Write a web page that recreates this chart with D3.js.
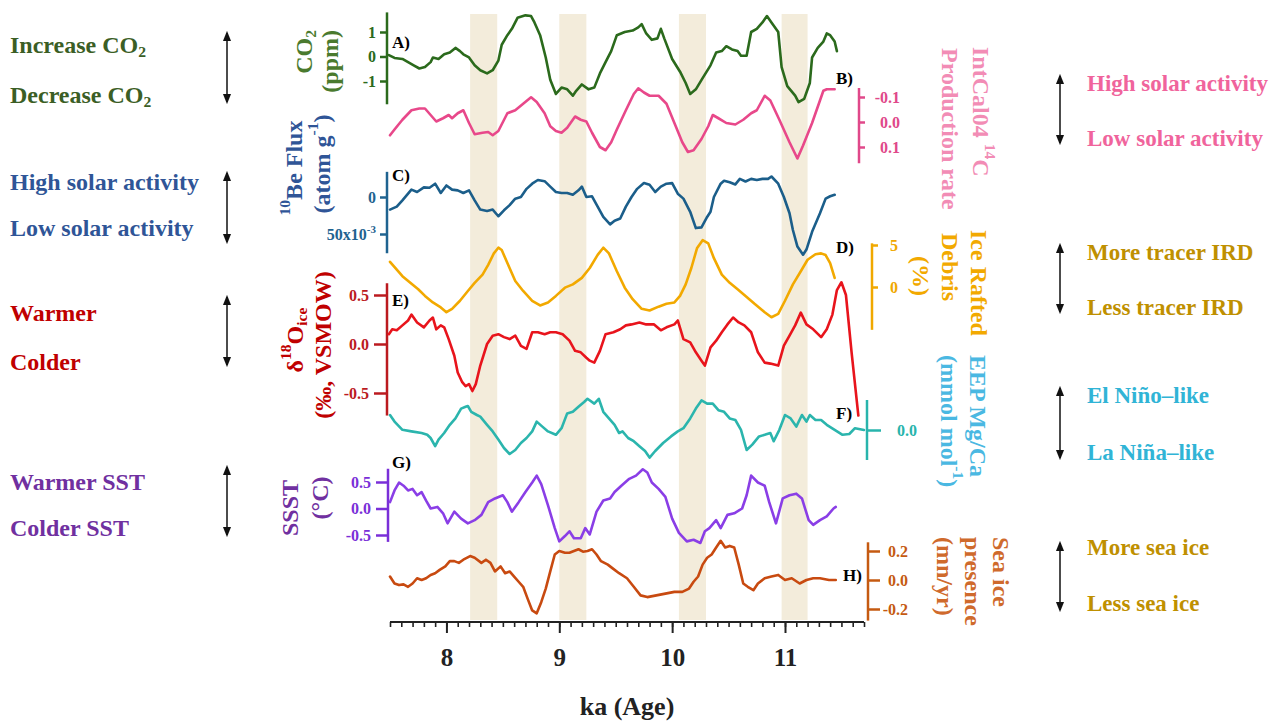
<!DOCTYPE html>
<html>
<head>
<meta charset="utf-8">
<script src="https://cdn.jsdelivr.net/npm/d3@7"></script>
<style>
  body { margin: 0; background: #fff; }
  svg text { font-family: "Times New Roman", "Liberation Serif", serif; font-weight: bold; }
</style>
</head>
<body>
<svg id="chart" width="1273" height="721"></svg>
<script>
// ---- data: [age (ka), value] ----
const co2 = [[7.49,0.06],[7.54,-0.06],[7.61,-0.1],[7.66,-0.23],[7.71,-0.36],[7.76,-0.49],[7.81,-0.43],[7.86,-0.23],[7.88,-0.04],[7.93,-0.1],[7.98,0.09],[8.03,0.16],[8.08,0.35],[8.12,0.22],[8.15,0.09],[8.2,-0.04],[8.25,-0.36],[8.3,-0.56],[8.36,-0.69],[8.41,-0.56],[8.46,-0.17],[8.49,0.48],[8.54,0.87],[8.58,1.13],[8.63,1.58],[8.7,1.68],[8.75,1.65],[8.78,1.39],[8.83,0.87],[8.88,-0.04],[8.92,-0.95],[8.97,-1.53],[9.02,-1.27],[9.07,-1.34],[9.12,-1.6],[9.15,-1.4],[9.2,-1.14],[9.26,-1.34],[9.31,-1.27],[9.36,-0.69],[9.41,-0.23],[9.46,0.22],[9.51,0.87],[9.58,1.0],[9.65,1.06],[9.7,1.19],[9.73,1.32],[9.77,0.94],[9.82,0.68],[9.87,0.74],[9.9,1.13],[9.93,0.74],[10.0,-0.1],[10.07,-0.62],[10.12,-1.08],[10.16,-1.53],[10.21,-1.34],[10.27,-0.88],[10.34,-0.36],[10.39,0.16],[10.44,0.22],[10.48,0.42],[10.53,0.29],[10.58,0.22],[10.61,0.03],[10.66,0.03],[10.7,1.0],[10.75,1.13],[10.8,1.39],[10.84,1.65],[10.88,1.39],[10.94,1.0],[10.97,-0.43],[11.02,-1.21],[11.09,-1.6],[11.12,-1.86],[11.17,-1.73],[11.22,-1.08],[11.24,-0.04],[11.29,0.35],[11.34,0.61],[11.37,0.94],[11.4,0.87],[11.44,0.61],[11.46,0.22]];

const c14Prod = [[7.5,0.053],[7.54,0.03],[7.61,-0.009],[7.69,-0.047],[7.76,-0.054],[7.81,-0.054],[7.86,-0.028],[7.91,-0.002],[7.97,-0.015],[8.02,-0.028],[8.05,-0.015],[8.1,-0.035],[8.15,-0.047],[8.2,0.004],[8.25,0.049],[8.32,0.043],[8.37,0.04],[8.41,0.053],[8.46,0.036],[8.54,-0.035],[8.61,-0.047],[8.68,-0.073],[8.75,-0.099],[8.8,-0.08],[8.87,-0.035],[8.92,0.017],[8.97,0.036],[9.02,0.043],[9.07,0.023],[9.14,-0.022],[9.19,-0.009],[9.24,-0.002],[9.29,0.043],[9.36,0.1],[9.41,0.113],[9.46,0.081],[9.51,0.03],[9.59,-0.047],[9.66,-0.112],[9.7,-0.135],[9.75,-0.118],[9.8,-0.105],[9.88,-0.105],[9.95,-0.073],[10.02,0.004],[10.09,0.081],[10.14,0.12],[10.19,0.113],[10.26,0.068],[10.32,0.017],[10.36,-0.028],[10.41,-0.015],[10.48,0.004],[10.56,0.01],[10.63,-0.009],[10.7,-0.035],[10.75,-0.047],[10.82,-0.105],[10.87,-0.086],[10.95,-0.009],[11.04,0.081],[11.11,0.146],[11.16,0.094],[11.24,0.004],[11.34,-0.125],[11.37,-0.131],[11.44,-0.131]];

// 10Be flux in units of 10^-3
const be10 = [[7.5,17],[7.56,13],[7.61,4.5],[7.66,-4.5],[7.69,-10],[7.74,-6.7],[7.8,-13],[7.85,-12.5],[7.9,-18],[7.95,-5.4],[8.0,-15.6],[8.05,-10],[8.1,-9],[8.15,-5.4],[8.2,-9],[8.25,4.5],[8.3,17],[8.36,18.8],[8.41,17],[8.46,26],[8.51,18],[8.56,11],[8.61,2.2],[8.66,0],[8.71,-11],[8.76,-18],[8.81,-23],[8.87,-21.4],[8.92,-14],[8.97,-6.7],[9.02,-5.4],[9.07,-5.4],[9.12,-3],[9.17,-9],[9.2,-14],[9.24,0],[9.29,-1],[9.34,13],[9.39,27],[9.45,37],[9.49,32],[9.54,29],[9.59,13],[9.64,0],[9.69,-11],[9.75,-19],[9.8,-16.5],[9.85,-6.7],[9.9,-14],[9.95,-18],[10.0,-18.8],[10.05,-4.5],[10.1,2.2],[10.16,20],[10.21,42],[10.26,41],[10.31,27],[10.34,20],[10.37,0],[10.43,-18],[10.46,-22],[10.51,-20],[10.56,-17],[10.6,-24.5],[10.65,-21],[10.7,-24.5],[10.75,-23],[10.8,-24.5],[10.85,-24.5],[10.88,-27.7],[10.94,-18],[10.99,0],[11.04,22],[11.07,44.6],[11.11,67],[11.16,78],[11.19,71],[11.24,47],[11.31,22],[11.36,2.2],[11.4,-1],[11.44,-3]];

const ird = [[7.5,3.0],[7.56,2.06],[7.61,1.29],[7.68,0.5],[7.75,-0.27],[7.81,-1.06],[7.88,-1.84],[7.95,-2.43],[8.0,-3.0],[8.05,-2.6],[8.12,-1.64],[8.19,-0.47],[8.25,0.5],[8.32,1.48],[8.37,2.64],[8.42,4.0],[8.46,4.68],[8.49,4.4],[8.54,2.85],[8.61,0.71],[8.68,-0.47],[8.76,-1.64],[8.83,-2.2],[8.9,-1.84],[8.97,-1.06],[9.05,-0.08],[9.12,0.31],[9.2,1.08],[9.27,2.26],[9.34,3.82],[9.39,4.68],[9.44,4.0],[9.51,1.87],[9.58,-0.08],[9.65,-1.45],[9.73,-2.6],[9.8,-2.8],[9.88,-2.34],[9.95,-2.0],[10.02,-1.84],[10.07,-1.06],[10.12,0.31],[10.17,2.26],[10.22,4.6],[10.27,5.57],[10.32,5.19],[10.37,3.43],[10.44,1.48],[10.51,0.5],[10.58,-0.27],[10.65,-1.06],[10.73,-2.0],[10.82,-3.0],[10.88,-3.6],[10.94,-3.2],[11.0,-1.64],[11.07,0.31],[11.14,1.87],[11.2,3.24],[11.27,3.9],[11.32,4.0],[11.36,3.8],[11.4,2.85],[11.44,1.08]];

const d18Oice = [[7.49,0.1],[7.52,0.15],[7.56,0.14],[7.61,0.19],[7.66,0.24],[7.69,0.3],[7.74,0.22],[7.8,0.17],[7.85,0.24],[7.88,0.27],[7.91,0.15],[7.95,0.19],[7.98,0.17],[8.02,0.05],[8.07,-0.12],[8.1,-0.29],[8.14,-0.39],[8.17,-0.43],[8.2,-0.41],[8.23,-0.48],[8.26,-0.41],[8.3,-0.22],[8.36,0.0],[8.41,0.085],[8.46,0.1],[8.51,0.07],[8.56,0.05],[8.61,0.085],[8.66,-0.02],[8.71,-0.05],[8.76,0.12],[8.81,0.12],[8.87,0.1],[8.92,0.12],[8.97,0.12],[9.03,0.1],[9.09,0.034],[9.14,-0.07],[9.19,-0.085],[9.24,-0.14],[9.27,-0.17],[9.31,-0.19],[9.36,-0.07],[9.41,0.1],[9.48,0.12],[9.54,0.15],[9.59,0.19],[9.64,0.2],[9.71,0.22],[9.77,0.2],[9.84,0.2],[9.9,0.14],[9.95,0.17],[10.02,0.2],[10.05,0.24],[10.1,0.05],[10.16,0.017],[10.21,-0.085],[10.26,-0.17],[10.29,-0.22],[10.34,-0.034],[10.39,0.034],[10.44,0.12],[10.49,0.2],[10.54,0.27],[10.59,0.22],[10.64,0.19],[10.7,0.12],[10.76,-0.085],[10.82,-0.19],[10.87,-0.2],[10.94,-0.22],[10.99,-0.017],[11.04,0.085],[11.09,0.19],[11.14,0.32],[11.19,0.2],[11.25,0.15],[11.32,0.07],[11.37,0.15],[11.42,0.3],[11.46,0.55],[11.5,0.63],[11.54,0.5],[11.59,-0.085],[11.65,-0.73]];

const mgca = [[7.5,0.075],[7.54,0.042],[7.61,0.001],[7.69,-0.007],[7.78,-0.015],[7.83,-0.024],[7.86,-0.04],[7.9,-0.081],[7.93,-0.048],[7.98,-0.015],[8.03,0.026],[8.08,0.058],[8.13,0.107],[8.17,0.116],[8.19,0.12],[8.22,0.091],[8.27,0.075],[8.3,0.067],[8.36,0.026],[8.41,-0.007],[8.46,-0.048],[8.51,-0.09],[8.56,-0.12],[8.61,-0.1],[8.66,-0.065],[8.71,-0.04],[8.76,-0.007],[8.8,0.042],[8.85,0.017],[8.9,-0.007],[8.97,-0.024],[9.02,0.009],[9.07,0.083],[9.12,0.091],[9.17,0.116],[9.22,0.14],[9.25,0.156],[9.31,0.132],[9.35,0.156],[9.39,0.091],[9.44,0.058],[9.49,0.026],[9.53,-0.015],[9.56,-0.007],[9.61,-0.04],[9.66,-0.056],[9.71,-0.081],[9.76,-0.105],[9.8,-0.138],[9.85,-0.105],[9.92,-0.065],[9.99,-0.032],[10.05,-0.007],[10.1,0.009],[10.16,0.058],[10.21,0.107],[10.26,0.148],[10.31,0.132],[10.36,0.132],[10.41,0.099],[10.46,0.091],[10.51,0.058],[10.56,0.05],[10.61,0.001],[10.66,-0.1],[10.71,-0.073],[10.77,-0.032],[10.82,-0.024],[10.87,-0.015],[10.9,-0.056],[10.95,0.001],[11.0,0.075],[11.05,0.058],[11.1,0.017],[11.15,0.075],[11.19,0.042],[11.22,0.075],[11.27,0.05],[11.32,0.05],[11.37,0.026],[11.44,0.001],[11.51,-0.024],[11.57,-0.02],[11.62,0.009],[11.7,0.0]];

const ssst = [[7.5,0.12],[7.54,0.34],[7.58,0.49],[7.62,0.43],[7.66,0.34],[7.7,0.37],[7.74,0.25],[7.78,0.31],[7.82,0.15],[7.86,0.0],[7.92,0.03],[7.97,-0.09],[8.01,-0.28],[8.07,-0.06],[8.13,-0.19],[8.19,-0.28],[8.25,-0.22],[8.31,-0.12],[8.37,0.12],[8.43,0.19],[8.5,0.25],[8.54,0.12],[8.58,-0.06],[8.64,0.12],[8.7,0.31],[8.76,0.49],[8.8,0.62],[8.84,0.46],[8.9,0.06],[8.96,-0.37],[9.0,-0.62],[9.05,-0.52],[9.09,-0.43],[9.13,-0.56],[9.19,-0.56],[9.23,-0.37],[9.27,-0.49],[9.33,-0.06],[9.39,0.15],[9.45,0.19],[9.49,0.31],[9.55,0.43],[9.62,0.56],[9.68,0.62],[9.74,0.74],[9.78,0.68],[9.82,0.49],[9.88,0.37],[9.94,0.22],[10.0,-0.19],[10.06,-0.46],[10.13,-0.62],[10.19,-0.59],[10.25,-0.65],[10.29,-0.43],[10.33,-0.37],[10.39,-0.22],[10.43,-0.37],[10.49,-0.12],[10.55,-0.09],[10.62,0.0],[10.66,0.25],[10.7,0.62],[10.76,0.49],[10.82,0.43],[10.86,0.12],[10.92,-0.28],[10.98,0.19],[11.04,0.25],[11.1,0.28],[11.15,0.19],[11.21,-0.22],[11.25,-0.31],[11.31,-0.22],[11.37,-0.15],[11.43,0.0],[11.45,0.03]];

const seaIce = [[7.5,0.024],[7.54,-0.024],[7.58,-0.035],[7.62,-0.03],[7.66,-0.047],[7.7,-0.024],[7.74,0.012],[7.78,0.0],[7.82,0.012],[7.86,0.035],[7.9,0.047],[7.94,0.07],[7.99,0.094],[8.03,0.13],[8.07,0.13],[8.11,0.118],[8.15,0.14],[8.21,0.165],[8.25,0.153],[8.31,0.118],[8.35,0.14],[8.39,0.118],[8.43,0.059],[8.48,0.094],[8.52,0.047],[8.56,0.059],[8.6,0.024],[8.64,-0.012],[8.68,-0.047],[8.72,-0.13],[8.76,-0.21],[8.8,-0.23],[8.84,-0.153],[8.88,-0.059],[8.92,0.059],[8.96,0.176],[9.0,0.2],[9.05,0.188],[9.09,0.188],[9.13,0.2],[9.17,0.212],[9.21,0.195],[9.25,0.2],[9.29,0.212],[9.33,0.176],[9.37,0.13],[9.43,0.106],[9.47,0.082],[9.53,0.047],[9.6,0.012],[9.66,-0.047],[9.72,-0.106],[9.78,-0.118],[9.86,-0.106],[9.94,-0.094],[10.02,-0.082],[10.09,-0.082],[10.15,-0.059],[10.19,-0.012],[10.23,0.024],[10.27,0.106],[10.31,0.153],[10.35,0.176],[10.39,0.224],[10.43,0.27],[10.47,0.224],[10.51,0.235],[10.55,0.224],[10.59,0.106],[10.63,-0.024],[10.67,-0.047],[10.72,-0.07],[10.76,-0.024],[10.82,0.012],[10.88,0.024],[10.94,0.035],[11.0,0.0],[11.06,0.012],[11.13,-0.024],[11.19,0.0],[11.25,0.012],[11.31,0.012],[11.39,0.0],[11.45,0.0]];

// shaded intervals (ka)
const bands = [[8.21, 8.45], [9.0, 9.24], [10.06, 10.3], [10.97, 11.2]];

// x axis ticks
const majorTicks = [8, 9, 10, 11];
const minorTicks = d3.range(75, 118).map(d => d / 10);

// interpretation labels
const leftNotes = [
  { top: [["Increase CO"], ["2", "sub"]], bottom: [["Decrease CO"], ["2", "sub"]], color: "#3b5e25", y: [45, 95], arrow: [33, 102] },
  { top: [["High solar activity"]], bottom: [["Low solar activity"]], color: "#2f5597", y: [182, 228], arrow: [173, 242] },
  { top: [["Warmer"]], bottom: [["Colder"]], color: "#c00000", y: [313, 362], arrow: [297, 365] },
  { top: [["Warmer SST"]], bottom: [["Colder SST"]], color: "#7030a0", y: [482, 528], arrow: [467, 535] }
];
const rightNotes = [
  { top: "High solar activity", bottom: "Low solar activity", color: "#f0649c", y: [83, 138], arrow: [76, 143] },
  { top: "More tracer IRD", bottom: "Less tracer IRD", color: "#bf9000", y: [252, 307], arrow: [245, 312] },
  { top: "El Niño–like", bottom: "La Niña–like", color: "#30b4d6", y: [395, 452], arrow: [388, 458] },
  { top: "More sea ice", bottom: "Less sea ice", color: "#bf9000", y: [547, 603], arrow: [543, 610] }
];

const svg = d3.select("#chart");
const FONT = '"Times New Roman", "Liberation Serif", serif';
const oneDec = d => d.toFixed(1);   // plain hyphen minus, like the original

const x = d3.scaleLinear().domain([7.5, 11.7]).range([390, 864]);

// beige bands behind everything
svg.append("g").selectAll("rect").data(bands).join("rect")
  .attr("x", d => x(d[0]))
  .attr("width", d => x(d[1]) - x(d[0]))
  .attr("y", 14)
  .attr("height", 606)
  .attr("fill", "#f3ecdb");

// panel definitions
const panels = [
  { name: "A)", data: co2, color: "#2b6a1c", axisColor: "#2b6a1c", side: "left", axisX: 387,
    domain: [-1, 1], range: [81, 32], span: [-1.95, 1.8], ticks: [-1, 0, 1], fmt: d => String(d), tickLen: 7, pad: 4,
    label: [392, 42] },
  { name: "B)", data: c14Prod, color: "#e8488a", axisColor: "#e0488a", side: "right", axisX: 859,
    domain: [-0.1, 0.1], range: [97, 147], span: [-0.136, 0.165], ticks: [-0.1, 0, 0.1], fmt: oneDec, tickLen: 6, pad: 6,
    anchorEnd: 41, label: [836, 78] },
  { name: "C)", data: be10, color: "#1b5e8a", axisColor: "#1f6390", side: "left", axisX: 387,
    domain: [0, 50], range: [197, 234], span: [-34, 76], ticks: [0, 50], fmt: d => d === 0 ? "0" : "", tickLen: 7, pad: 4,
    label: [392, 175] },
  { name: "D)", data: ird, color: "#f2a900", axisColor: "#f0a800", side: "right", axisX: 872,
    domain: [0, 5], range: [287, 245], span: [-5.1, 5.2], ticks: [0, 5], fmt: d => String(d), tickLen: 6, pad: 12,
    label: [836, 247] },
  { name: "E)", data: d18Oice, color: "#e8141c", axisColor: "#bb1a1f", side: "left", axisX: 387,
    domain: [-0.5, 0.5], range: [393, 295], span: [-0.73, 0.62], ticks: [-0.5, 0, 0.5], fmt: oneDec, tickLen: 13, pad: 5,
    label: [392, 300] },
  { name: "F)", data: mgca, color: "#2bb5ad", axisColor: "#28b4ac", side: "right", axisX: 867,
    domain: [0, 0.1], range: [430, 410], span: [-0.15, 0.15], ticks: [0], fmt: oneDec, tickLen: 14, pad: 16,
    label: [836, 413] },
  { name: "G)", data: ssst, color: "#8a3ee6", axisColor: "#7a2fd8", side: "left", axisX: 388,
    domain: [-0.5, 0.5], range: [535, 482], span: [-0.63, 0.75], ticks: [-0.5, 0, 0.5], fmt: oneDec, tickLen: 12, pad: 5,
    label: [392, 462] },
  { name: "H)", data: seaIce, color: "#c84a10", axisColor: "#c55a11", side: "right", axisX: 868,
    domain: [-0.2, 0.2], range: [609, 551], span: [-0.28, 0.26], ticks: [-0.2, 0, 0.2], fmt: oneDec, tickLen: 12, pad: 4,
    anchorEnd: 40, label: [843, 575] }
];

panels.forEach(p => {
  const y = d3.scaleLinear().domain(p.domain).range(p.range);

  const axis = (p.side === "left" ? d3.axisLeft(y) : d3.axisRight(y))
    .tickValues(p.ticks).tickSize(p.tickLen).tickPadding(p.pad).tickFormat(p.fmt);
  const g = svg.append("g")
    .attr("transform", `translate(${p.axisX},0)`)
    .call(axis)
    .attr("font-family", FONT).attr("font-size", 16);
  g.select(".domain").remove();
  g.append("line")
    .attr("y1", y(p.span[0])).attr("y2", y(p.span[1]))
    .attr("stroke", p.axisColor).attr("stroke-width", 2.5);
  g.selectAll(".tick line").attr("stroke", p.axisColor).attr("stroke-width", 2.5);
  g.selectAll(".tick text").attr("fill", p.axisColor).attr("font-weight", "bold");
  if (p.anchorEnd) g.selectAll(".tick text").attr("text-anchor", "end").attr("x", p.anchorEnd);

  // the 50x10^-3 label with its exponent
  if (p.name === "C)") {
    g.selectAll(".tick text").filter(d => d === 50).each(function () {
      const t = d3.select(this);
      t.append("tspan").text("50x10");
      t.append("tspan").attr("dy", -7).attr("font-size", 11).text("-3");
    });
  }

  svg.append("path")
    .datum(p.data)
    .attr("fill", "none")
    .attr("stroke", p.color)
    .attr("stroke-width", 2.6)
    .attr("stroke-linejoin", "round")
    .attr("stroke-linecap", "round")
    .attr("d", d3.line().x(d => x(d[0])).y(d => y(d[1])));

  svg.append("text")
    .attr("x", p.label[0]).attr("y", p.label[1])
    .attr("dominant-baseline", "central")
    .attr("font-size", 17).attr("fill", "#000")
    .text(p.name);
});

// x axis: minor then major ticks
const xMinor = svg.append("g").attr("transform", "translate(0,622)")
  .call(d3.axisBottom(x).tickValues(minorTicks).tickSize(5).tickFormat(""));
xMinor.select(".domain").attr("stroke", "#222").attr("stroke-width", 2).attr("d", `M${x(7.5)},0H${x(11.7)}`);
xMinor.selectAll(".tick line").attr("stroke", "#222").attr("stroke-width", 1.6);

const xMajor = svg.append("g").attr("transform", "translate(0,622)")
  .call(d3.axisBottom(x).tickValues(majorTicks).tickSize(11).tickPadding(15).tickFormat(d3.format("d")))
  .attr("font-family", FONT).attr("font-size", 25);
xMajor.select(".domain").remove();
xMajor.selectAll(".tick line").attr("stroke", "#222").attr("stroke-width", 2);
xMajor.selectAll(".tick text").attr("fill", "#222").attr("font-weight", "bold");

svg.append("text")
  .attr("x", x(9.6)).attr("y", 706)
  .attr("text-anchor", "middle").attr("dominant-baseline", "central")
  .attr("font-size", 26).attr("fill", "#222")
  .text("ka (Age)");

// rich text helper: parts = [[text, "sup"|"sub"|undefined], ...]
function rich(sel, parts, size) {
  let shift = 0;
  parts.forEach(([txt, kind]) => {
    const target = kind === "sup" ? -0.4 * size : kind === "sub" ? 0.25 * size : 0;
    sel.append("tspan")
      .attr("dy", target - shift)
      .attr("font-size", kind ? size * 0.65 : size)
      .text(txt);
    shift = target;
  });
}

function title(cx, cy, rot, anchor, parts, color, size) {
  const t = svg.append("text")
    .attr("transform", `translate(${cx},${cy}) rotate(${rot})`)
    .attr("text-anchor", anchor)
    .attr("dominant-baseline", "central")
    .attr("fill", color);
  rich(t, parts, size || 24);
}

// left axis titles (read bottom to top)
title(304, 30, -90, "end", [["CO"], ["2", "sub"]], "#4a7a2e");
title(330, 30, -90, "end", [["(ppm)"]], "#4a7a2e");
title(294, 168, -90, "middle", [["10", "sup"], ["Be Flux"]], "#2f5597");
title(322, 164, -90, "middle", [["(atom g"], ["-1", "sup"], [")"]], "#2f5597");
title(295, 340, -90, "middle", [["δ"], ["18", "sup"], ["O"], ["ice", "sub"]], "#c00000");
title(323, 345, -90, "middle", [["(‰, VSMOW)"]], "#c00000");
title(290, 508, -90, "middle", [["SSST"]], "#7030a0");
title(320, 498, -90, "middle", [["(°C)"]], "#7030a0");

// right axis titles (read top to bottom)
title(981, 47, 90, "start", [["IntCal04  "], ["14", "sup"], ["C"]], "#f28cb5");
title(950, 48, 90, "start", [["Production rate"]], "#f28cb5");
title(979, 230, 90, "start", [["Ice Rafted"]], "#f2a900");
title(950, 233, 90, "start", [["Debris"]], "#f2a900");
title(921, 256, 90, "start", [["(%)"]], "#f2a900");
title(978, 355, 90, "start", [["EEP Mg/Ca"]], "#4ab8e2");
title(949, 355, 90, "start", [["(mmol mol"], ["-1", "sup"], [")"]], "#4ab8e2");
title(1001, 537, 90, "start", [["Sea ice"]], "#cf6a2c");
title(973, 537, 90, "start", [["presence"]], "#cf6a2c");
title(945, 537, 90, "start", [["(mn/yr)"]], "#cf6a2c");

// double arrows
const defs = svg.append("defs");
defs.append("marker").attr("id", "ah").attr("viewBox", "0 0 10 10")
  .attr("refX", 8).attr("refY", 5).attr("markerWidth", 7).attr("markerHeight", 7)
  .attr("orient", "auto-start-reverse")
  .append("path").attr("d", "M0,1L10,5L0,9Z").attr("fill", "#111");

function arrow(ax, y0, y1) {
  svg.append("line")
    .attr("x1", ax).attr("x2", ax).attr("y1", y0).attr("y2", y1)
    .attr("stroke", "#111").attr("stroke-width", 1.5)
    .attr("marker-start", "url(#ah)").attr("marker-end", "url(#ah)");
}

leftNotes.forEach(n => {
  [n.top, n.bottom].forEach((parts, i) => {
    const t = svg.append("text").attr("x", 10).attr("y", n.y[i])
      .attr("dominant-baseline", "central").attr("fill", n.color);
    rich(t, parts, 24);
  });
  arrow(227, n.arrow[0], n.arrow[1]);
});

rightNotes.forEach(n => {
  [n.top, n.bottom].forEach((txt, i) => {
    svg.append("text").attr("x", 1087).attr("y", n.y[i])
      .attr("dominant-baseline", "central").attr("font-size", 23)
      .attr("fill", n.color).text(txt);
  });
  arrow(1060, n.arrow[0], n.arrow[1]);
});
</script>
</body>
</html>
